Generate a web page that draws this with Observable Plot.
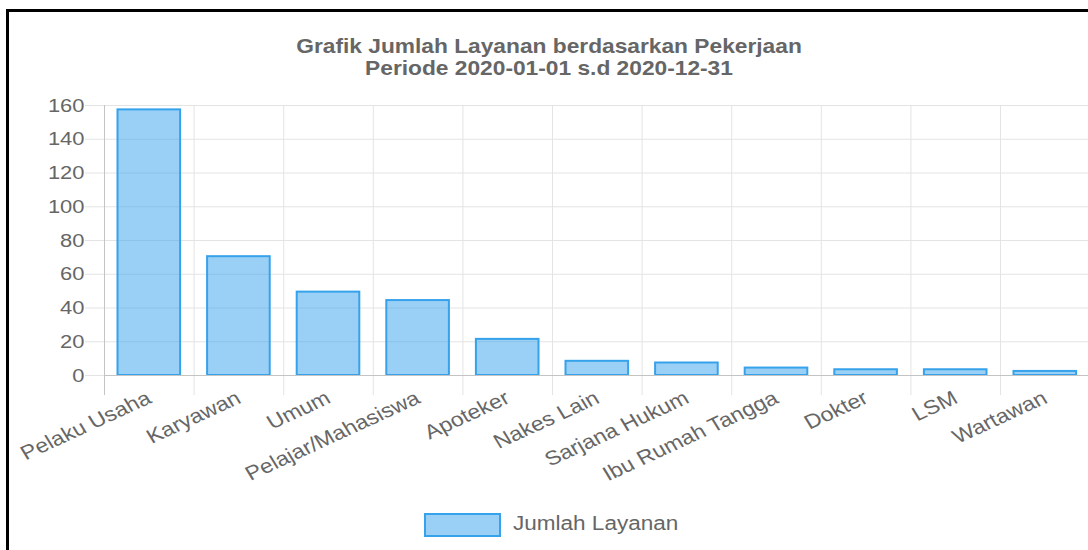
<!DOCTYPE html>
<html>
<head>
<meta charset="utf-8">
<script src="https://cdn.jsdelivr.net/npm/d3@7"></script>
<script src="https://cdn.jsdelivr.net/npm/@observablehq/plot@0.6"></script>
<style>
  html, body { margin: 0; padding: 0; background: #fff; overflow: hidden; }
  #page { position: relative; width: 1088px; height: 550px; overflow: hidden; background: #fff;
          font-family: "Liberation Sans", Arial, sans-serif; color: #666; }
  #frame { position: absolute; left: 6px; top: 9px; width: 1200px; height: 700px;
           border-left: 3px solid #000; border-top: 3px solid #000; }
  #title { position: absolute; left: 0; top: 34.5px; width: 1098px; text-align: center;
           font-weight: bold; font-size: 19.7px; line-height: 22.5px; color: #666;
           transform: scaleX(1.155); transform-origin: 549px 0; white-space: nowrap; }
  #chart { position: absolute; left: 0; top: 90px; width: 1100px; }
  #legendBox { position: absolute; left: 424px; top: 513px; width: 73px; height: 20px;
               background: rgba(54,162,235,0.5); border: 2px solid #36a2eb; }
  #legendText { position: absolute; left: 513px; top: 514px; font-size: 19.5px; line-height: 19.5px;
                color: #666; transform: scaleX(1.155); transform-origin: 0 0; white-space: nowrap; }
</style>
</head>
<body>
<div id="page">
  <div id="frame"></div>
  <div id="title"></div>
  <div id="chart"></div>
  <div id="legendBox"></div>
  <div id="legendText"></div>
</div>
<script>
// ---- data ----
const titleLines = ["Grafik Jumlah Layanan berdasarkan Pekerjaan", "Periode 2020-01-01 s.d 2020-12-31"];
const seriesName = "Jumlah Layanan";
const categories = ["Pelaku Usaha", "Karyawan", "Umum", "Pelajar/Mahasiswa", "Apoteker", "Nakes Lain",
                    "Sarjana Hukum", "Ibu Rumah Tangga", "Dokter", "LSM", "Wartawan"];
const values = [158, 71, 50, 45, 22, 9, 8, 5, 4, 4, 3];
const yTicks = [0, 20, 40, 60, 80, 100, 120, 140, 160];

document.getElementById("title").innerHTML = titleLines.join("<br>");
document.getElementById("legendText").textContent = seriesName;

const data = categories.map((c, i) => ({category: c, value: values[i], i}));
const boundaries = d3.range(categories.length + 1);

const gridColor = "#e4e4e4";
const axisColor = "#c4c4c4";
const textColor = "#666";

const chart = Plot.plot({
  width: 1100,
  height: 420,
  marginTop: 15,
  marginBottom: 135,
  marginLeft: 104,
  marginRight: 10.4,
  style: {fontFamily: "'Liberation Sans', Arial, sans-serif", background: "transparent", color: textColor, overflow: "visible"},
  x: {type: "linear", domain: [0, categories.length], axis: null},
  y: {domain: [0, 160], axis: null},
  marks: [
    Plot.ruleY(yTicks, {y: d => d, stroke: gridColor}),
    Plot.ruleX(boundaries.slice(1), {x: d => d, y1: 160, y2: 0, insetBottom: -20, stroke: gridColor}),
    Plot.rectY(data, {
      x1: d => d.i, x2: d => d.i + 1, y1: 0, y2: "value",
      insetLeft: 13.5, insetRight: 13.5, insetTop: 1,
      fill: "rgba(54,162,235,0.5)", stroke: "#36a2eb", strokeWidth: 2
    }),
    Plot.ruleX([0], {x: d => d, y1: 160, y2: 0, insetBottom: -20, stroke: axisColor}),
    Plot.ruleY([0], {y: d => d, stroke: axisColor, insetLeft: -19}),
    Plot.axisY({ticks: yTicks, tickSize: 19, tickPadding: 1, stroke: gridColor, fill: textColor,
                fontSize: 19, tickFormat: d => String(d), label: null}),
    Plot.text(data, {
      x: d => d.i + 0.5, y: d => 0, text: "category",
      rotate: -28, textAnchor: "end", lineAnchor: "middle", dy: 21,
      fontSize: 20, fill: textColor
    })
  ]
});

// horizontal stretch of glyphs, as in the reference rendering
chart.querySelectorAll("text").forEach(t => {
  const tr = t.getAttribute("transform") || "";
  if (/^translate\([^)]*\)/.test(tr)) {
    t.setAttribute("transform", tr.replace(/^(translate\([^)]*\))/, "$1 scale(1.155,1)"));
  } else {
    t.setAttribute("transform", "scale(1.155,1) " + tr);
  }
});

document.getElementById("chart").appendChild(chart);
</script>
</body>
</html>
